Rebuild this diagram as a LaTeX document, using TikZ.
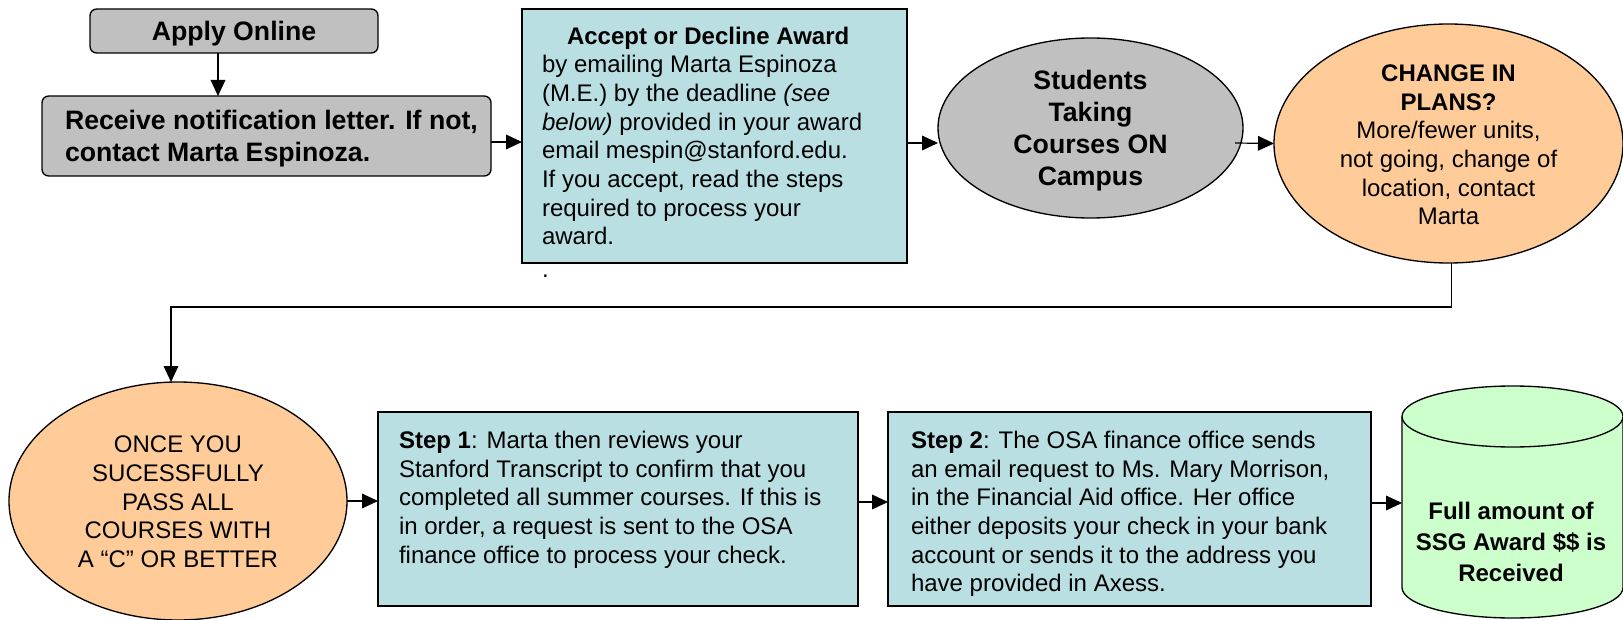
\documentclass[tikz,border=0pt]{standalone}
\usepackage{fontspec}
\setmainfont{Liberation Sans}
\usetikzlibrary{shapes.geometric,arrows.meta,calc}
\definecolor{boxgrey}{HTML}{C0C0C0}
\definecolor{boxblue}{HTML}{B9DFE2}
\definecolor{boxorange}{HTML}{FFCC99}
\definecolor{boxgreen}{HTML}{CCFFCC}
\begin{document}
\begin{tikzpicture}[x=0.75pt,y=-0.75pt,
  shp/.style={draw=black, line width=1pt, inner sep=0pt, outer sep=0pt},
  greybox/.style={shp, rounded corners=5pt, fill=boxgrey},
  bluebox/.style={shp, fill=boxblue},
  orangeell/.style={shp, ellipse, fill=boxorange},
  txt/.style={inner sep=0pt, outer sep=0pt},
  arr/.style={draw=black, line width=0.9pt, -{Triangle[length=12pt,width=11pt]}},
  big/.style={font=\fontsize{20}{24}\selectfont\bfseries},
  body/.style={font=\fontsize{18}{21.5}\selectfont},
]
\useasboundingbox (0,0) rectangle (1623,620);

% ---- shapes ----
\node[greybox, minimum width=216pt, minimum height=33pt] (apply) at (234,31) {};
\node[greybox, minimum width=336.75pt, minimum height=60pt] (recv) at (266.5,136) {};
\node[bluebox, minimum width=288.75pt, minimum height=190.5pt] (accept) at (714.5,136) {};
\node[shp, ellipse, fill=boxgrey, minimum width=228.75pt, minimum height=135pt] (students) at (1090.5,128) {};
\node[orangeell, minimum width=261.75pt, minimum height=179.25pt] (change) at (1448.5,143.5) {};
\node[orangeell, minimum width=253.5pt, minimum height=178.5pt] (once) at (178,501) {};
\node[bluebox, minimum width=360pt, minimum height=145.5pt] (step1) at (618,509) {};
\node[bluebox, minimum width=362.25pt, minimum height=145.5pt] (step2) at (1129.5,509) {};
\node[txt, minimum width=165.75pt, minimum height=174pt] (cyl) at (1512.5,502) {};

% cylinder drawn directly
\path[fill=boxgreen] (1402,416.5) -- (1402,587.5)
  arc[start angle=180, end angle=360, x radius=82.875pt, y radius=22.875pt]
  -- (1623,416.5) -- cycle;
\draw[line width=1pt] (1402,416.5) -- (1402,587.5)
  arc[start angle=180, end angle=360, x radius=82.875pt, y radius=22.875pt]
  -- (1623,416.5);
\draw[line width=1pt, fill=boxgreen] (1512.5,416.5) ellipse[x radius=82.875pt, y radius=22.875pt];

% ---- texts ----
\node[txt, big] (applytxt) at (234,34) {Apply Online};
\node[txt, big, anchor=west, align=left] (recvtxt) at (65,139)
  {Receive notification letter. If not,\\contact Marta Espinoza.};
\node[txt, body, anchor=west, align=left] (accepttxt) at (542,136)
  {\hspace*{18.75pt}\textbf{Accept or Decline Award}\\
   by emailing Marta Espinoza\\
   (M.E.) by the deadline \textit{(see}\\
   \textit{below)} provided in your award\\
   email mespin@stanford.edu.\\
   If you accept, read the steps\\
   required to process your\\
   award.};
\node[txt, body, anchor=base west] (dot) at (542,277) {.};
\node[txt, big, align=center] (studtxt) at (1090.5,131)
  {Students\\Taking\\Courses ON\\Campus};
\node[txt, body, align=center] (changetxt) at (1448.5,145)
  {\textbf{CHANGE IN}\\\textbf{PLANS?}\\More/fewer units,\\not going, change of\\location, contact\\Marta};
\node[txt, body, align=center] (oncetxt) at (178,502)
  {ONCE YOU\\SUCESSFULLY\\PASS ALL\\COURSES WITH\\A “C” OR BETTER};
\node[txt, body, anchor=north west, align=left] (step1txt) at (399,431)
  {\textbf{Step 1}: Marta then reviews your\\
   Stanford Transcript to confirm that you\\
   completed all summer courses. If this is\\
   in order, a request is sent to the OSA\\
   finance office to process your check.};
\node[txt, body, anchor=north west, align=left] (step2txt) at (911,431)
  {\textbf{Step 2}: The OSA finance office sends\\
   an email request to Ms. Mary Morrison,\\
   in the Financial Aid office. Her office\\
   either deposits your check in your bank\\
   account or sends it to the address you\\
   have provided in Axess.};
\node[txt, font=\fontsize{18}{23}\selectfont\bfseries, align=center] (cyltxt) at (1511,542)
  {Full amount of\\SSG Award \$\$ is\\Received};

% ---- connectors ----
\draw[arr] ($(apply.south)+(-16,0)$) coordinate (a1) -- (a1 |- recv.north);
\draw[arr] ($(recv.east)+(0,6)$) coordinate (a2) -- (a2 -| accept.west);
\draw[arr] ($(accept.east)+(0,7)$) coordinate (a3) -- (a3 -| students.west);
\draw[arr] ($(students.east)+(-8,15)$) -- (change.west);
\draw[arr] ($(change.south)+(3,0)$) -- ++(0,44) -| ($(once.north)+(-7,0)$);
\draw[arr] (once.east) -- (once.east -| step1.west);
\draw[arr] ($(step1.east)+(0,-7)$) coordinate (a7) -- (a7 -| step2.west);
\draw[arr] ($(step2.east)+(0,-6)$) coordinate (a8) -- (a8 -| cyl.west);
\end{tikzpicture}
\end{document}
